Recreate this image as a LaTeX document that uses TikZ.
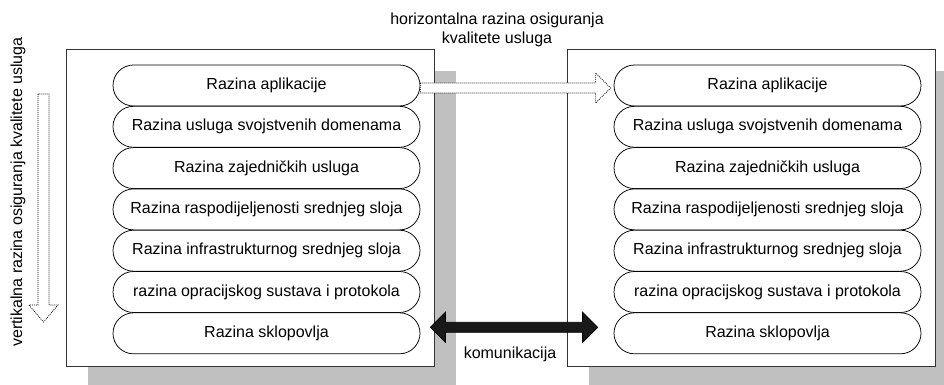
\documentclass[tikz,border=0pt]{standalone}
\usepackage{fontspec}
\setmainfont{Liberation Sans}
\usetikzlibrary{shapes.misc,calc}
\definecolor{shadowgrey}{RGB}{192,192,192}
\tikzset{
  layerpill/.style={rounded rectangle, draw=black, line width=0.75pt, fill=white,
    minimum width=307pt, minimum height=41pt, inner sep=0pt,
    font=\fontsize{16}{19}\selectfont},
  framebox/.style={draw=black!80, line width=0.8pt, fill=white},
  boxshadow/.style={fill=shadowgrey, draw=none},
  dotarrow/.style={draw=black, line width=0.7pt, dash pattern=on 1pt off 1pt, fill=white},
  commarrow/.style={draw=black, line width=0.8pt, fill=black!90},
  label/.style={font=\fontsize{16}{19}\selectfont, inner sep=0pt, align=center}
}
\begin{document}
\begin{tikzpicture}[x=1pt,y=-1pt]
\clip (0,0) rectangle (944,385);
\fill[white] (0,0) rectangle (944,385);

% drop shadows and frames of the two stacks
\path[boxshadow] (88,71) rectangle (456,388);
\path[boxshadow] (589,71) rectangle (957,388);
\path[framebox] (66,49) rectangle (434,366);
\path[framebox] (567,49) rectangle (935,366);

% layer stacks
\foreach \side/\cx in {l/266.5, r/767.5}{
  \foreach \t [count=\i] in {Razina aplikacije,
      Razina usluga svojstvenih domenama,
      Razina zajedničkih usluga,
      Razina raspodijeljenosti srednjeg sloja,
      Razina infrastrukturnog srednjeg sloja,
      razina opracijskog sustava i protokola,
      Razina sklopovlja}{
    \node[layerpill] (\side a\i) at (\cx, {85.5+(\i-1)*41.3}) {\t};
  }
}

% horizontal quality-assurance arrow (between the application layers)
\coordinate (hs) at ($(la1.east)+(0,2.5)$);
\coordinate (ht) at ($(ra1.west)+(-3,2.5)$);
\path[dotarrow] ($(hs)+(0,-5)$) -- ($(ht)+(-15,-5)$) -- ($(ht)+(-15,-15)$) -- (ht)
  -- ($(ht)+(-15,15)$) -- ($(ht)+(-15,5)$) -- ($(hs)+(0,5)$) -- cycle;

% vertical quality-assurance arrow
\coordinate (vs) at (43.5,94);
\coordinate (vt) at (43.5,322);
\path[dotarrow] ($(vs)+(-5.5,0)$) -- ($(vt)+(-5.5,-17)$) -- ($(vt)+(-14.5,-17)$) -- (vt)
  -- ($(vt)+(14.5,-17)$) -- ($(vt)+(5.5,-17)$) -- ($(vs)+(5.5,0)$) -- cycle;

% communication arrow between the hardware layers
\coordinate (cl) at ($(la7.east)+(10,-6)$);
\coordinate (cr) at ($(ra7.west)+(-16,-6)$);
\path[commarrow] (cl) -- ($(cl)+(15,-15)$) -- ($(cl)+(15,-5)$) -- ($(cr)+(-15,-5)$)
  -- ($(cr)+(-15,-15)$) -- (cr) -- ($(cr)+(-15,15)$) -- ($(cr)+(-15,5)$)
  -- ($(cl)+(15,5)$) -- ($(cl)+(15,15)$) -- cycle;

% labels
\node[label] (hlabel) at (497,30) {horizontalna razina osiguranja\\kvalitete usluga};
\node[label, rotate=90] (vlabel) at (18,192) {vertikalna razina osiguranja kvalitete usluga};
\node[label] (clabel) at (510,354) {komunikacija};
\end{tikzpicture}
\end{document}
